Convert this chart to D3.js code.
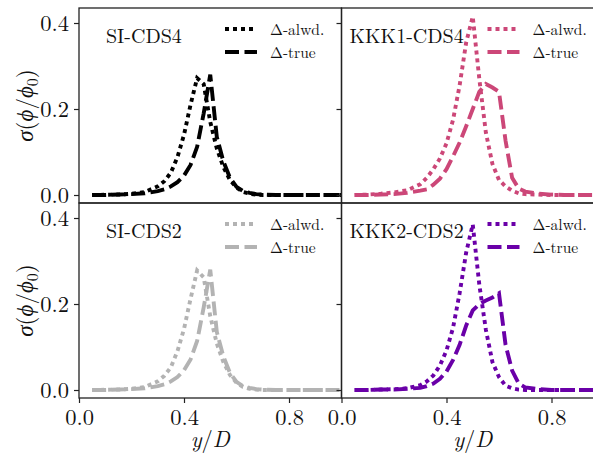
<!DOCTYPE html>
<html>
<head>
<meta charset="utf-8">
<script src="https://cdn.jsdelivr.net/npm/d3@7"></script>
<style>
  body { margin: 0; background: #fff; }
  svg { display: block; }
</style>
</head>
<body>
<svg id="chart" width="593" height="454"></svg>
<script>
(function () {
  // Sampled wall-normal positions y/D (shared by every curve).
  const yPos = [0.05, 0.1, 0.15, 0.2, 0.25, 0.3, 0.325, 0.35, 0.375, 0.4, 0.425, 0.45, 0.475, 0.5,
    0.525, 0.55, 0.575, 0.6, 0.625, 0.65, 0.675, 0.7, 0.75, 0.8, 0.85, 0.9, 0.95, 1.0];

  // sigma(phi/phi0).
  const siCds4Alwd = [0, 0.0005, 0.001, 0.003, 0.007, 0.02, 0.032, 0.052, 0.088, 0.14, 0.21, 0.272, 0.258, 0.17,
    0.108, 0.065, 0.035, 0.017, 0.007, 0.003, 0.001, 0, 0, 0, 0, 0, 0, 0];
  const siCds4True = [0, 0, 0.001, 0.002, 0.004, 0.009, 0.013, 0.02, 0.03, 0.045, 0.07, 0.112, 0.19, 0.28,
    0.135, 0.078, 0.04, 0.019, 0.009, 0.005, 0.002, 0.001, 0, 0, 0, 0, 0, 0];
  const kkk1Cds4Alwd = [0, 0.001, 0.003, 0.006, 0.011, 0.025, 0.04, 0.06, 0.085, 0.12, 0.175, 0.255, 0.355, 0.415,
    0.27, 0.145, 0.072, 0.035, 0.02, 0.01, 0.004, 0.002, 0.001, 0, 0, 0, 0, 0];
  const kkk1Cds4True = [0, 0, 0.001, 0.002, 0.005, 0.01, 0.013, 0.024, 0.038, 0.06, 0.09, 0.122, 0.16, 0.2,
    0.24, 0.258, 0.25, 0.24, 0.126, 0.04, 0.015, 0.008, 0.003, 0.001, 0, 0, 0, 0];
  const siCds2Alwd = [0, 0.0005, 0.001, 0.003, 0.007, 0.02, 0.033, 0.053, 0.09, 0.142, 0.212, 0.278, 0.262, 0.172,
    0.108, 0.065, 0.035, 0.017, 0.007, 0.003, 0.001, 0, 0, 0, 0, 0, 0, 0];
  const siCds2True = [0, 0, 0.001, 0.002, 0.004, 0.009, 0.013, 0.02, 0.03, 0.046, 0.071, 0.114, 0.192, 0.28,
    0.135, 0.078, 0.04, 0.019, 0.009, 0.005, 0.002, 0.001, 0, 0, 0, 0, 0, 0];
  const kkk2Cds2Alwd = [0, 0, 0.001, 0.002, 0.004, 0.011, 0.02, 0.034, 0.057, 0.092, 0.145, 0.225, 0.32, 0.385,
    0.245, 0.14, 0.065, 0.03, 0.01, 0.004, 0.001, 0, 0, 0, 0, 0, 0, 0];
  const kkk2Cds2True = [0, 0, 0.001, 0.001, 0.003, 0.005, 0.009, 0.015, 0.026, 0.043, 0.07, 0.105, 0.15, 0.185,
    0.2, 0.208, 0.215, 0.225, 0.105, 0.045, 0.015, 0.006, 0.002, 0, 0, 0, 0, 0];

  const panelTitles = ["SI-CDS4", "KKK1-CDS4", "SI-CDS2", "KKK2-CDS2"];
  const legendLabels = ["\u0394-alwd.", "\u0394-true"];
  const xTicks = [0, 0.4, 0.8];
  const yTicks = [0, 0.2, 0.4];

  let panels = [
    { title: panelTitles[0], alwd: siCds4Alwd, tru: siCds4True, color: "#000000", col: 0, row: 0 },
    { title: panelTitles[1], alwd: kkk1Cds4Alwd, tru: kkk1Cds4True, color: "#cc4778", col: 1, row: 0 },
    { title: panelTitles[2], alwd: siCds2Alwd, tru: siCds2True, color: "#b3b3b3", col: 0, row: 1 },
    { title: panelTitles[3], alwd: kkk2Cds2Alwd, tru: kkk2Cds2True, color: "#6a00a8", col: 1, row: 1 },
  ];

  // Layout of the 2x2 grid.
  const left = 79, top = 8, pw = 262.5, ph = 195;
  const dotted = "4,4", dashed = "14,5.5";
  const lw = 3.9;
  const font = '"Latin Modern Roman", "Liberation Serif", serif';

  let x = d3.scaleLinear().domain([0, 1]).range([0, pw]);
  let y = d3.scaleLinear().domain([-0.0186, 0.4349]).range([ph, 0]);

  let svg = d3.select("#chart");

  let line = d3
    .line()
    .x((d, i) => x(yPos[i]))
    .y((d) => y(d));

  function label(sel, size) {
    return sel.style("font-family", font).style("font-size", size).style("fill", "#111");
  }

  panels.forEach((p, k) => {
    let g = svg
      .append("g")
      .attr("transform", `translate(${left + p.col * pw},${top + p.row * ph})`);

    g.append("clipPath")
      .attr("id", "clip" + k)
      .append("rect")
      .attr("width", pw)
      .attr("height", ph);

    let plot = g.append("g").attr("clip-path", `url(#clip${k})`);

    [[p.alwd, dotted], [p.tru, dashed]].forEach(([vals, dash]) => {
      plot.append("path")
        .attr("d", line(vals))
        .attr("fill", "none")
        .attr("stroke", p.color)
        .attr("stroke-width", lw)
        .attr("stroke-dasharray", dash);
    });

    // Panel title.
    label(g.append("text"), "20px")
      .attr("x", p.col === 0 ? 27 : 8)
      .attr("y", 35)
      .text(p.title);

    // Legend.
    legendLabels.forEach((lab, i) => {
      g.append("line")
        .attr("x1", 146)
        .attr("x2", 178)
        .attr("y1", 21 + i * 23)
        .attr("y2", 21 + i * 23)
        .attr("stroke", p.color)
        .attr("stroke-width", lw)
        .attr("stroke-dasharray", i === 0 ? dotted : dashed);
      label(g.append("text"), "15.5px")
        .attr("x", 191)
        .attr("y", 26.5 + i * 23)
        .text(lab);
    });

    // Y axis ticks (labels only on left column).
    let yAxis = d3
      .axisLeft(y)
      .tickValues(yTicks)
      .tickSize(5)
      .tickPadding(5)
      .tickFormat(p.col === 0 ? d3.format(".1f") : () => "");
    let ya = g.append("g").call(yAxis);
    ya.select(".domain").remove();
    label(ya.selectAll("text"), "22.5px");
    ya.selectAll("line").attr("stroke", "#222").attr("stroke-width", 1.2);

    // X axis on bottom row.
    if (p.row === 1) {
      let xAxis = d3
        .axisBottom(x)
        .tickValues(xTicks)
        .tickSize(5)
        .tickPadding(6)
        .tickFormat(d3.format(".1f"));
      let xa = g.append("g").attr("transform", `translate(0,${ph})`).call(xAxis);
      xa.select(".domain").remove();
      label(xa.selectAll("text"), "22.5px");
      xa.selectAll("line").attr("stroke", "#222").attr("stroke-width", 1.2);

      let xl = label(g.append("text"), "22.5px")
        .attr("x", pw / 2)
        .attr("y", 447 - top - ph)
        .attr("text-anchor", "middle");
      xl.append("tspan").style("font-style", "italic").text("y");
      xl.append("tspan").text("/");
      xl.append("tspan").style("font-style", "italic").text("D");
    }

    // Y label on left column.
    if (p.col === 0) {
      let yl = label(g.append("text"), "23px")
        .attr("transform", `translate(${33 - left},${ph / 2}) rotate(-90)`)
        .attr("text-anchor", "middle");
      yl.append("tspan").style("font-style", "italic").text("\u03c3");
      yl.append("tspan").text("(");
      yl.append("tspan").style("font-style", "italic").text("\u03d5");
      yl.append("tspan").text("/");
      yl.append("tspan").style("font-style", "italic").text("\u03d5");
      yl.append("tspan").style("font-size", "16px").attr("dy", 5).text("0");
      yl.append("tspan").attr("dy", -5).text(")");
    }

    // Panel frame.
    g.append("rect")
      .attr("width", pw)
      .attr("height", ph)
      .attr("fill", "none")
      .attr("stroke", "#222")
      .attr("stroke-width", 1.3);
  });
})();
</script>
</body>
</html>
